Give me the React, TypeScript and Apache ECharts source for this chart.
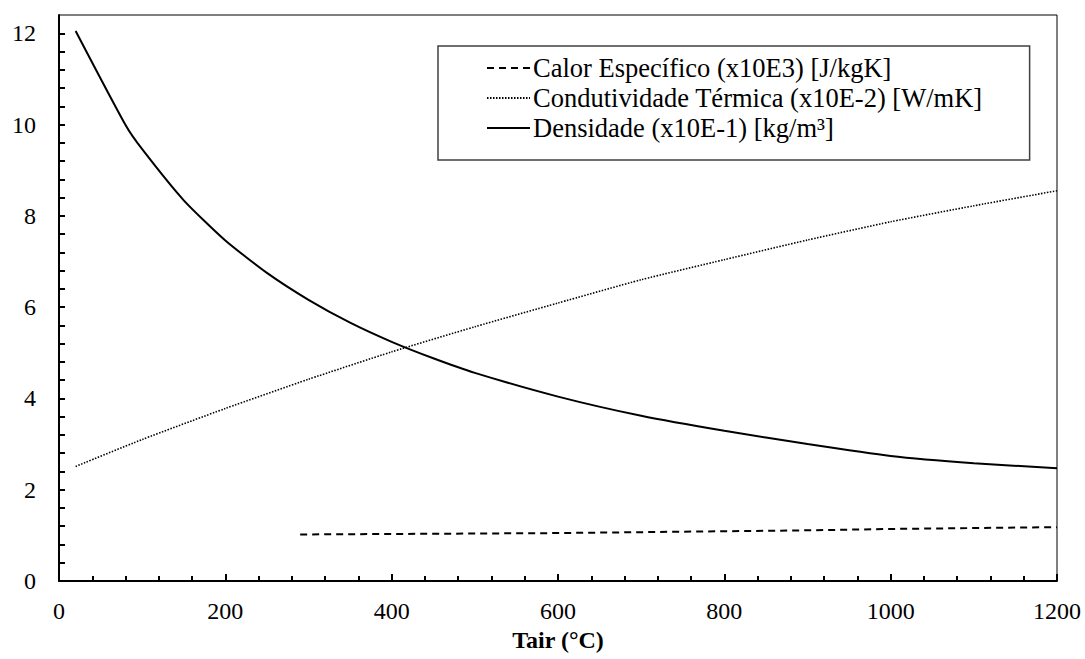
import React, { useEffect, useRef } from "react";
import * as echarts from "echarts";

// Temperatures (°C) and values
const densTemps = [20, 80, 100, 150, 200, 250, 300, 350, 400, 450, 500, 600, 700, 800, 900, 1000, 1100, 1200];
const densValues = [12.05, 9.99, 9.46, 8.34, 7.46, 6.75, 6.16, 5.66, 5.24, 4.88, 4.56, 4.04, 3.62, 3.29, 3.0, 2.74, 2.58, 2.47];

const condTemps = [20, 100, 200, 300, 400, 500, 600, 700, 800, 900, 1000, 1100, 1200];
const condValues = [2.51, 3.1, 3.78, 4.42, 5.02, 5.57, 6.09, 6.6, 7.04, 7.47, 7.87, 8.22, 8.55];

const cpTemps = [290, 400, 500, 600, 700, 800, 900, 1000, 1100, 1200];
const cpValues = [1.02, 1.03, 1.04, 1.05, 1.07, 1.09, 1.11, 1.14, 1.16, 1.18];

const seriesNames = [
  "Calor Específico (x10E3) [J/kgK]",
  "Condutividade Térmica (x10E-2) [W/mK]",
  "Densidade (x10E-1) [kg/m³]",
];
const xAxisTitle = "Tair (°C)";

const FONT = "Liberation Serif";

function pairs(xs: number[], ys: number[]) {
  return xs.map((x, i) => [x, ys[i]]);
}

export default function App() {
  const ref = useRef<HTMLDivElement>(null);
  useEffect(() => {
    if (!ref.current) return;
    const chart = echarts.init(ref.current, undefined, { renderer: "svg" });
    chart.setOption({
      animation: false,
      backgroundColor: "#ffffff",
      textStyle: { fontFamily: FONT },
      grid: {
        left: 59,
        right: 28,
        top: 15,
        bottom: 78,
        show: true,
        borderColor: "#000",
        borderWidth: 1,
        backgroundColor: "transparent",
      },
      legend: {
        orient: "vertical",
        left: 438,
        top: 46,
        padding: [7, 47, 17, 48],
        itemWidth: 43,
        itemHeight: 14,
        itemGap: 0,
        borderColor: "#404040",
        borderWidth: 1.5,
        backgroundColor: "#fff",
        itemStyle: { opacity: 0 },
        data: seriesNames,
        textStyle: { fontFamily: FONT, fontSize: 26.5, color: "#000", lineHeight: 30, padding: [0, 0, 0, -2] },
      },
      xAxis: {
        type: "value",
        min: 0,
        max: 1200,
        interval: 200,
        name: xAxisTitle,
        nameLocation: "middle",
        nameGap: 27,
        nameTextStyle: { fontFamily: FONT, fontSize: 24, fontWeight: "bold", color: "#000" },
        axisLine: { show: true, lineStyle: { color: "#000", width: 2 } },
        axisTick: { show: true, inside: true, length: 7, lineStyle: { color: "#000", width: 2 } },
        minorTick: { show: true, splitNumber: 5, length: 5, lineStyle: { color: "#000", width: 2 } },
        splitLine: { show: false },
        minorSplitLine: { show: false },
        axisLabel: {
          fontFamily: FONT,
          fontSize: 24,
          color: "#000",
          margin: 18,
          formatter: (v: number) => String(v),
        },
      },
      yAxis: {
        type: "value",
        min: 0,
        max: 12.4,
        interval: 0.4,
        axisLine: { show: true, lineStyle: { color: "#000", width: 2 } },
        axisTick: { show: true, inside: true, length: 6, lineStyle: { color: "#000", width: 2 } },
        splitLine: { show: false },
        axisLabel: {
          fontFamily: FONT,
          fontSize: 24,
          color: "#000",
          margin: 23,
          showMaxLabel: false,
          formatter: (v: number) => {
            const r = Math.round(v / 2);
            return Math.abs(v / 2 - r) < 1e-6 ? String(r * 2) : "";
          },
        },
      },
      series: [
        {
          name: seriesNames[0],
          type: "line",
          data: pairs(cpTemps, cpValues),
          showSymbol: false,
          symbol: "none",
          lineStyle: { color: "#000", width: 2, type: [7, 5] },
          itemStyle: { color: "#000" },
        },
        {
          name: seriesNames[1],
          type: "line",
          data: pairs(condTemps, condValues),
          showSymbol: false,
          symbol: "none",
          smooth: 0.2,
          lineStyle: { color: "#000", width: 1.6, type: [1.5, 1.5] },
          itemStyle: { color: "#000" },
        },
        {
          name: seriesNames[2],
          type: "line",
          data: pairs(densTemps, densValues),
          showSymbol: false,
          symbol: "none",
          smooth: 0.2,
          lineStyle: { color: "#000", width: 2, type: "solid" },
          itemStyle: { color: "#000" },
        },
      ],
    });
    return () => chart.dispose();
  }, []);
  return (
    <div
      ref={ref}
      style={{ position: "fixed", left: 0, top: 0, width: 1085, height: 659, background: "#fff" }}
    />
  );
}
